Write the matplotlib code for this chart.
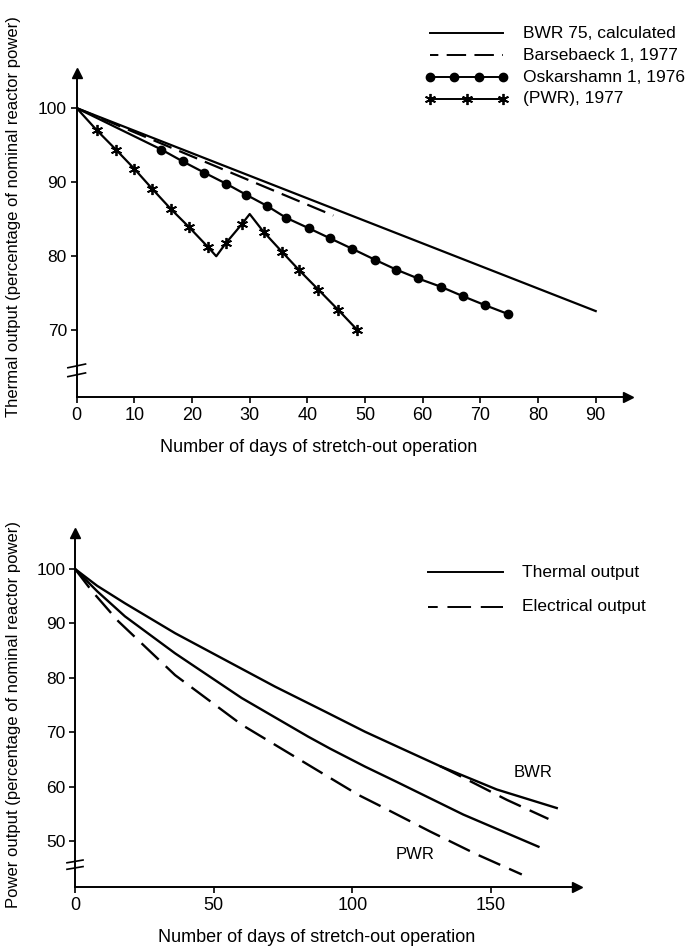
import matplotlib
matplotlib.use("Agg")
import matplotlib.pyplot as plt
from matplotlib.lines import Line2D

plt.rcParams['font.family'] = ['Liberation Sans', 'DejaVu Sans']
plt.rcParams['lines.scale_dashes'] = False

W, H = 699, 948
NARROW = ['Liberation Sans Narrow', 'Liberation Sans']

# ---- top chart data (days, % of nominal power) ----
bwr75_days = [0, 90]
bwr75_vals = [100, 72.6]

barse_days = [0, 44.5]
barse_vals = [100, 85.5]

oskar_days = [0, 14.7, 18.4, 22.1, 25.9, 29.4, 33.0, 36.3, 40.2, 44.0,
              47.8, 51.8, 55.4, 59.2, 63.1, 67.0, 70.8, 74.8]
oskar_vals = [100, 94.4, 92.8, 91.3, 89.8, 88.3, 86.8, 85.2, 83.8, 82.4,
              81.0, 79.5, 78.2, 77.0, 75.9, 74.6, 73.4, 72.2]

pwr77_days = [0, 3.5, 6.8, 10.0, 13.1, 16.3, 19.4, 22.7, 24.2, 25.9, 28.6,
              30.0, 32.4, 35.6, 38.6, 41.9, 45.3, 48.6]
pwr77_vals = [100, 97.0, 94.4, 91.8, 89.1, 86.4, 84.0, 81.3, 80.0, 81.8, 84.3,
              85.7, 83.3, 80.6, 78.1, 75.5, 72.8, 70.1]
pwr77_marked = [1, 2, 3, 4, 5, 6, 7, 9, 10, 12, 13, 14, 15, 16, 17]

top_xticks = [0, 10, 20, 30, 40, 50, 60, 70, 80, 90]
top_yticks = [70, 80, 90, 100]

# ---- bottom chart data ----
bwr_th_days = [0, 8, 18.0, 36.1, 54.1, 72.1, 90.2, 104.6, 117, 131.6, 152.1, 173.7]
bwr_th_vals = [100, 96.9, 93.7, 88.2, 83.3, 78.4, 73.8, 70.1, 67.2, 63.8, 59.5, 56.1]

bwr_el_days = [131.6, 137.6, 155.7, 170.7]
bwr_el_vals = [63.8, 62.3, 57.6, 54.1]

pwr_th_days = [0, 8, 18.0, 36.1, 60.1, 84.1, 92.0, 104.6, 116.0, 140.0, 167.1]
pwr_th_vals = [100, 95.9, 91.3, 84.5, 76.3, 69.2, 67.0, 63.7, 60.9, 54.9, 49.0]

pwr_el_days = [0, 6, 15.6, 36.1, 60.1, 86.5, 102.2, 110.0, 128.0, 144.8, 161.1]
pwr_el_vals = [100, 96.0, 90.4, 80.5, 71.4, 63.3, 58.5, 56.5, 51.8, 47.6, 43.9]

bot_xticks = [0, 50, 100, 150]
bot_yticks = [50, 60, 70, 80, 90, 100]


def fx(px):
    return px / W


def fy(py):
    return 1 - py / H


def axes_px(left, top, right, bottom):
    return [fx(left), fy(bottom), (right - left) / W, (bottom - top) / H]


def style_axes(ax, brk):
    for s in ['top', 'right']:
        ax.spines[s].set_visible(False)
    for s in ['left', 'bottom']:
        ax.spines[s].set_linewidth(1.4)
    ax.tick_params(direction='out', length=4, width=1.2, labelsize=12.5, pad=3)
    # arrow heads
    ax.plot([1], [0], marker='>', ms=7, color='black', transform=ax.transAxes,
            clip_on=False)
    ax.plot([0], [1], marker='^', ms=7, color='black', transform=ax.transAxes,
            clip_on=False)
    # axis break marks
    tr = ax.get_yaxis_transform()
    for off in (-0.6, 0.6):
        ax.plot([-0.016, 0.016], [brk + off - 0.25, brk + off + 0.25], color='black',
                lw=1.2, transform=tr, clip_on=False)


fig = plt.figure(figsize=(W / 100, H / 100), dpi=100)

# ================= top chart =================
ax1 = fig.add_axes(axes_px(76.7, 73.3, 628, 397))
ax1.set_xlim(0, 95.6)
ax1.set_ylim(61.0, 104.7)
style_axes(ax1, 64.6)

ax1.plot(bwr75_days, bwr75_vals, color='black', lw=1.6)
ax1.plot(barse_days, barse_vals, color='black', lw=1.6, ls=(0, (14, 6)))
ax1.plot(oskar_days, oskar_vals, color='black', lw=1.6, marker='o', ms=6,
         markevery=list(range(1, len(oskar_days))))
ax1.plot(pwr77_days, pwr77_vals, color='black', lw=1.6, marker=(6, 2, 0),
         ms=8, mew=1.3, markevery=pwr77_marked)

ax1.set_xticks(top_xticks)
ax1.set_yticks(top_yticks)
ax1.set_xticklabels([str(t) for t in top_xticks], family=NARROW, fontsize=13)
fig.text(fx(319), fy(447), "Number of days of stretch-out operation",
         ha='center', va='center', fontsize=13, family=NARROW)
fig.text(fx(14), fy(217), "Thermal output (percentage of nominal reactor power)",
         rotation=90, ha='center', va='center', fontsize=12)

# legend (top)
leg_top = [
    ("BWR 75, calculated", dict(ls='-')),
    ("Barsebaeck 1, 1977", dict(ls=(8, (14, 6)))),
    ("Oskarshamn 1, 1976", dict(ls='-', marker='o', ms=6, markevery=[0, 1, 2, 3])),
    ("(PWR), 1977", dict(ls='-', marker=(6, 2, 0), ms=8, mew=1.3, markevery=[0, 1, 2])),
]
for i, (txt, kw) in enumerate(leg_top):
    yy = fy(33 + 22 * i)
    if 'markevery' in kw:
        n = len(kw['markevery'])
        xs = [fx(430 + (503 - 430) * k / (n - 1)) for k in range(n)]
    else:
        xs = [fx(430), fx(503)]
    fig.add_artist(Line2D(xs, [yy] * len(xs), color='black', lw=1.4,
                          transform=fig.transFigure, **kw))
    fig.text(fx(523), yy, txt, ha='left', va='center', fontsize=12.5)

# ================= bottom chart =================
ax2 = fig.add_axes(axes_px(75, 533, 577, 887))
ax2.set_xlim(0, 181)
ax2.set_ylim(41.6, 106.6)
style_axes(ax2, 45.7)

ax2.plot(bwr_th_days, bwr_th_vals, color='black', lw=1.7)
ax2.plot(pwr_th_days, pwr_th_vals, color='black', lw=1.7)
ax2.plot(bwr_el_days, bwr_el_vals, color='black', lw=1.7, ls=(0, (17, 7)))
ax2.plot(pwr_el_days, pwr_el_vals, color='black', lw=1.7, ls=(0, (17, 7)))

ax2.text(165, 62.6, "BWR", ha='center', va='center', fontsize=12)
ax2.text(122.6, 47.5, "PWR", ha='center', va='center', fontsize=12)

ax2.set_xticks(bot_xticks)
ax2.set_yticks(bot_yticks)
ax2.set_xticklabels([str(t) for t in bot_xticks], family=NARROW, fontsize=13)
fig.text(fx(317), fy(938), "Number of days of stretch-out operation",
         ha='center', va='center', fontsize=13, family=NARROW)
fig.text(fx(14), fy(714), "Power output (percentage of nominal reactor power)",
         rotation=90, ha='center', va='center', fontsize=12)

leg_bot = [
    ("Thermal output", dict(ls='-')),
    ("Electrical output", dict(ls=(10, (17, 7)))),
]
for i, (txt, kw) in enumerate(leg_bot):
    yy = fy(572 + 35 * i)
    fig.add_artist(Line2D([fx(428), fx(503)], [yy, yy], color='black', lw=1.4,
                          transform=fig.transFigure, **kw))
    fig.text(fx(522), yy, txt, ha='left', va='center', fontsize=12.5)

fig.savefig("out.png", dpi=100)
